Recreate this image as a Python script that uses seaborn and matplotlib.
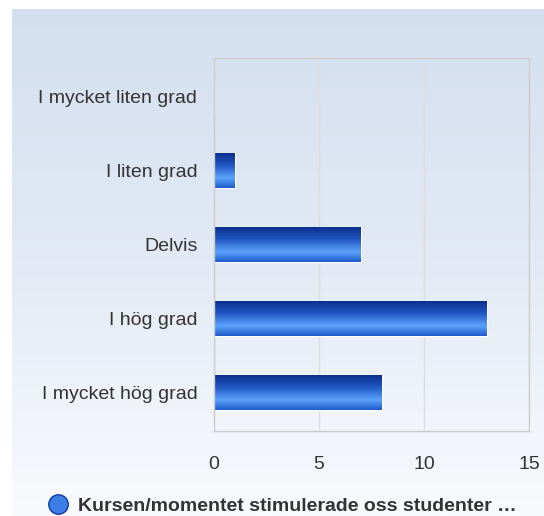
import numpy as np
import pandas as pd
import matplotlib
matplotlib.use('Agg')
import matplotlib.pyplot as plt
import seaborn as sns
from matplotlib.colors import LinearSegmentedColormap
from matplotlib.lines import Line2D

# Data
categories = ['I mycket liten grad', 'I liten grad', 'Delvis', 'I hög grad', 'I mycket hög grad']
counts = [0, 1, 7, 13, 8]
series_name = 'Kursen/momentet stimulerade oss studenter …'
x_ticks = [0, 5, 10, 15]

df = pd.DataFrame({'category': categories, 'count': counts})

sns.set_style('white')
plt.rcParams['font.family'] = ['Liberation Sans', 'DejaVu Sans']

W, H = 544, 516
fig = plt.figure(figsize=(W / 100, H / 100), dpi=100)

# Background gradient panel
bg = fig.add_axes([12 / W, 0, (W - 12) / W, (H - 9) / H], zorder=-5)
grad_bg = LinearSegmentedColormap.from_list('bg', ['#d3dfef', '#e3eaf5', '#f9fafd'])
bg.imshow(np.linspace(0, 1, 256).reshape(-1, 1), aspect='auto', cmap=grad_bg,
          extent=(0, 1, 0, 1), origin='upper')
bg.axis('off')

# Plot area
ax = fig.add_axes([214 / W, (H - 431) / H, 315 / W, 373 / H])
ax.set_facecolor('none')
sns.barplot(data=df, x='count', y='category', orient='h', width=0.48,
            color='#2a64cc', edgecolor='white', linewidth=1, ax=ax)

bar_cmap = LinearSegmentedColormap.from_list(
    'bar', [(0.0, '#0a2d88'), (0.35, '#1f55c0'), (0.72, '#5aa2fb'), (1.0, '#1f5ccb')])
grad = np.linspace(0, 1, 128).reshape(-1, 1)
for p in ax.patches:
    x0, y0 = p.get_x(), p.get_y()
    w, h = p.get_width(), p.get_height()
    if w <= 0:
        continue
    im = ax.imshow(grad, aspect='auto', cmap=bar_cmap, origin='upper',
                   extent=(x0, x0 + w, y0 + h, y0), zorder=p.get_zorder() + 0.1)
    im.set_clip_path(p)

ax.set_xlim(0, 15)
ax.set_ylim(4.52, -0.52)
ax.set_xticks(x_ticks)
ax.grid(axis='x', color='#dddddd', linewidth=1)
ax.set_axisbelow(True)
for s in ax.spines.values():
    s.set_color('#cccccc')
    s.set_linewidth(1)
ax.set_xlabel('')
ax.set_ylabel('')
ax.tick_params(axis='both', length=0, labelsize=14, colors='#333333')
ax.tick_params(axis='x', pad=18)
ax.tick_params(axis='y', pad=12)

# Legend below the chart
handle = Line2D([], [], marker='o', linestyle='none', markersize=14,
                markerfacecolor='#3b7fe6', markeredgecolor='#0d3a9e', markeredgewidth=1)
fig.legend([handle], [series_name], loc='center', bbox_to_anchor=(0.52, 10 / H),
           frameon=False, handletextpad=0.55, handlelength=0.9,
           prop={'weight': 'bold', 'size': 14})
for t in fig.legends[0].get_texts():
    t.set_color('#333333')

fig.savefig('out.png', dpi=100)
